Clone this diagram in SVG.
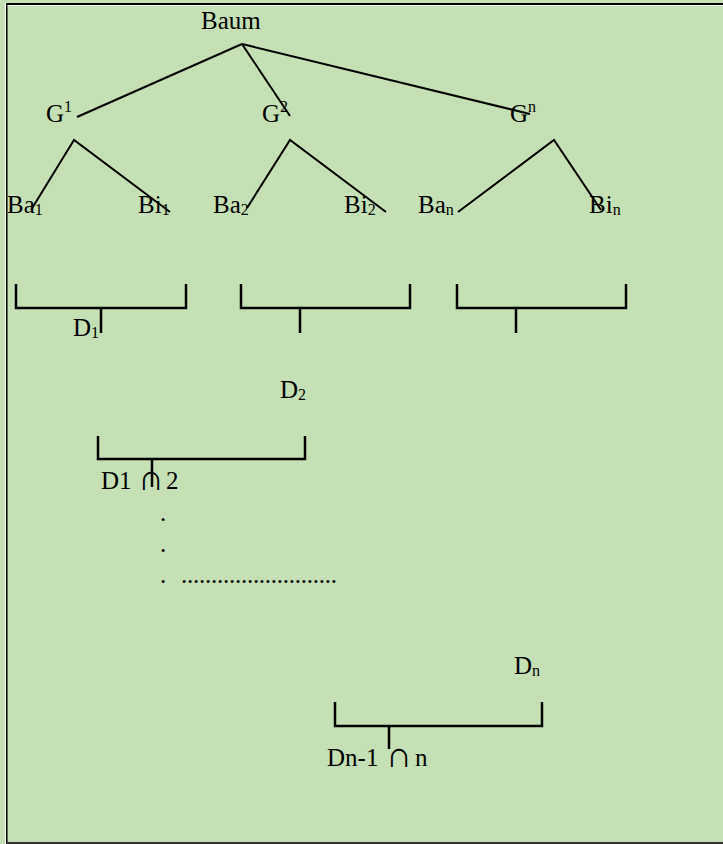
<svg xmlns="http://www.w3.org/2000/svg" width="723" height="844" viewBox="0 0 723 844">
  <style>
    .t { font-family: "Liberation Serif", "Times New Roman", serif; font-size: 25px; fill: #000; }
    .s { font-size: 16px; }
    .cap { font-size: 36px; }
    .ln { stroke: #000; stroke-width: 2; fill: none; }
    .br { stroke: #000; stroke-width: 2.5; fill: none; }
  </style>
  <rect x="0" y="0" width="723" height="844" fill="#C5E0B4"/>
  <g id="frame">
    <rect x="5" y="5" width="718" height="1" fill="#FFFFFF"/>
    <rect x="5" y="3" width="1" height="841" fill="#FFFFFF"/>
    <rect x="6" y="3" width="717" height="2" fill="#000"/>
    <rect x="6" y="3" width="1.5" height="841" fill="#000"/>
    <rect x="6" y="842" width="717" height="2" fill="#333"/>
  </g>
  <g id="connectors">
    <line class="ln" x1="242" y1="44" x2="77" y2="117"/>
    <line class="ln" x1="242" y1="44" x2="290" y2="116"/>
    <line class="ln" x1="242" y1="44" x2="530" y2="114"/>
    <polyline class="ln" points="31,210 74,140 170,212"/>
    <polyline class="ln" points="247,208 290,140 386,212"/>
    <polyline class="ln" points="458,212 554,140 601,210"/>
  </g>
  <g id="n-baum"><text class="t" x="201" y="29">Baum</text></g>
  <g id="n-g1"><text class="t" x="46" y="122">G<tspan class="s" dy="-10">1</tspan></text></g>
  <g id="n-g2"><text class="t" x="262" y="122">G<tspan class="s" dy="-10">2</tspan></text></g>
  <g id="n-gn"><text class="t" x="510" y="122">G<tspan class="s" dy="-10">n</tspan></text></g>
  <g id="n-ba1"><text class="t" x="7" y="213">Ba<tspan class="s" dy="2">1</tspan></text></g>
  <g id="n-bi1"><text class="t" x="138" y="213">Bi<tspan class="s" dy="2">1</tspan></text></g>
  <g id="n-ba2"><text class="t" x="213" y="213">Ba<tspan class="s" dy="2">2</tspan></text></g>
  <g id="n-bi2"><text class="t" x="344" y="213">Bi<tspan class="s" dy="2">2</tspan></text></g>
  <g id="n-ban"><text class="t" x="418" y="213">Ba<tspan class="s" dy="2">n</tspan></text></g>
  <g id="n-bin"><text class="t" x="589" y="213">Bi<tspan class="s" dy="2">n</tspan></text></g>
  <g id="bracket1"><polyline class="br" points="16,284 16,308 186,308 186,284"/><line class="br" x1="101" y1="308" x2="101" y2="333"/></g>
  <g id="bracket2"><polyline class="br" points="241,284 241,308 410,308 410,284"/><line class="br" x1="300" y1="308" x2="300" y2="333"/></g>
  <g id="bracket3"><polyline class="br" points="457,284 457,308 626,308 626,284"/><line class="br" x1="516" y1="308" x2="516" y2="333"/></g>
  <g id="n-d1"><text class="t" x="73" y="336">D<tspan class="s" dy="2">1</tspan></text></g>
  <g id="n-d2"><text class="t" x="280" y="398">D<tspan class="s" dy="2">2</tspan></text></g>
  <g id="bracket4"><polyline class="br" points="98,436 98,459 305,459 305,436"/><line class="br" x1="152" y1="459" x2="152" y2="487"/></g>
  <g id="n-d12"><text class="t" x="101" y="489">D1</text><text class="t cap" x="138" y="490">∩</text><text class="t" x="166" y="489">2</text></g>
  <g id="dots">
    <text class="t" x="160" y="521">.</text>
    <text class="t" x="160" y="552">.</text>
    <text class="t" x="160" y="583">.</text>
    <text class="t" x="181" y="583" textLength="156" lengthAdjust="spacing">..........................</text>
  </g>
  <g id="n-dn"><text class="t" x="514" y="674">D<tspan class="s" dy="2">n</tspan></text></g>
  <g id="bracket5"><polyline class="br" points="335,702 335,726 542,726 542,702"/><line class="br" x1="389" y1="726" x2="389" y2="749"/></g>
  <g id="n-dn1"><text class="t" x="327" y="766">Dn-1</text><text class="t cap" x="386" y="767">∩</text><text class="t" x="415" y="766">n</text></g>
</svg>
